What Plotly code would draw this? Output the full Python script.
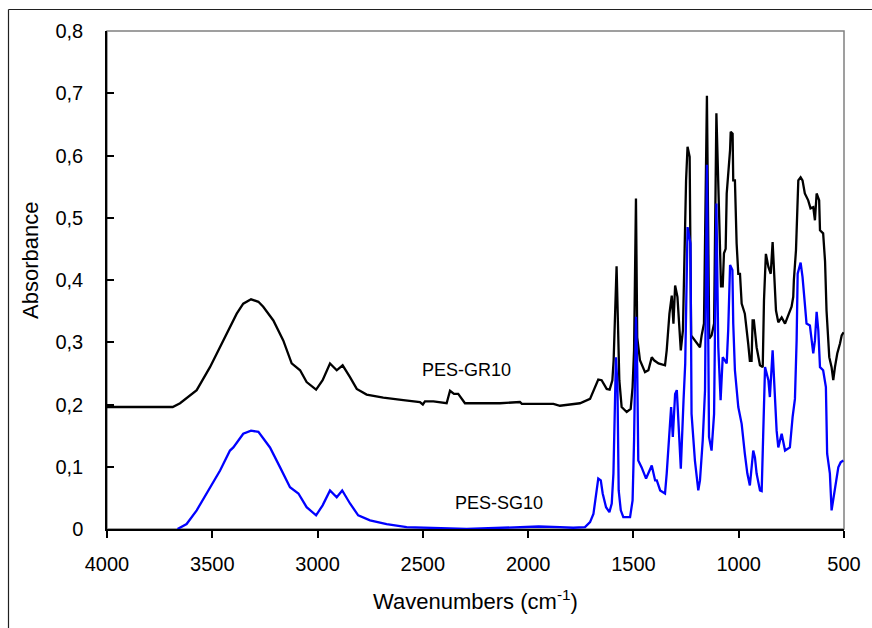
import plotly.graph_objects as go

# ---------------- data ----------------
gr10_wavenumber = [4000, 3688, 3653, 3574, 3511, 3448, 3384, 3353, 3316, 3281, 3258, 3210, 3163, 3123,
                   3083, 3052, 3007, 2976, 2941, 2909, 2881, 2846, 2814, 2767, 2688, 2593, 2514, 2500,
                   2490, 2450, 2387, 2371, 2352, 2332, 2300, 2134, 2039, 2030, 1880, 1849, 1754, 1706,
                   1690, 1667, 1651, 1627, 1613, 1600, 1594, 1580, 1567, 1556, 1532, 1513, 1504, 1497,
                   1488, 1482, 1469, 1445, 1429, 1413, 1402, 1389, 1381, 1350, 1342, 1329, 1318, 1310,
                   1302, 1291, 1282, 1275, 1265, 1250, 1243, 1233, 1226, 1215, 1199, 1184, 1176, 1165,
                   1151, 1140, 1129, 1117, 1106, 1097, 1089, 1084, 1076, 1070, 1062, 1057, 1041, 1038,
                   1029, 1026, 1018, 1010, 1002, 994, 986, 971, 955, 947, 939, 934, 928, 923, 915, 899,
                   886, 880, 871, 859, 848, 839, 833, 823, 812, 796, 780, 765, 749, 741, 738, 728, 722,
                   717, 706, 697, 686, 670, 659, 646, 638, 630, 618, 614, 599, 590, 583, 570, 559, 551,
                   543, 532, 519, 511, 502]
gr10_absorbance = [0.196, 0.196, 0.202, 0.223, 0.260, 0.303, 0.346, 0.362, 0.369, 0.365, 0.357, 0.335,
                   0.303, 0.266, 0.255, 0.236, 0.224, 0.239, 0.266, 0.255, 0.263, 0.244, 0.225, 0.216,
                   0.211, 0.207, 0.204, 0.200, 0.205, 0.205, 0.202, 0.222, 0.217, 0.217, 0.202, 0.202,
                   0.204, 0.201, 0.201, 0.198, 0.202, 0.209, 0.223, 0.240, 0.239, 0.225, 0.224, 0.239,
                   0.271, 0.422, 0.239, 0.196, 0.188, 0.193, 0.228, 0.287, 0.531, 0.308, 0.271, 0.252,
                   0.255, 0.276, 0.271, 0.267, 0.266, 0.263, 0.287, 0.346, 0.375, 0.330, 0.391, 0.373,
                   0.324, 0.287, 0.319, 0.560, 0.614, 0.598, 0.311, 0.306, 0.298, 0.292, 0.311, 0.330,
                   0.696, 0.306, 0.311, 0.330, 0.668, 0.539, 0.443, 0.390, 0.390, 0.443, 0.450, 0.539,
                   0.609, 0.638, 0.635, 0.560, 0.560, 0.459, 0.410, 0.410, 0.362, 0.346, 0.298, 0.270,
                   0.270, 0.335, 0.335, 0.319, 0.292, 0.263, 0.260, 0.367, 0.442, 0.421, 0.410, 0.461,
                   0.416, 0.351, 0.332, 0.340, 0.330, 0.343, 0.357, 0.373, 0.400, 0.448, 0.512, 0.560,
                   0.565, 0.560, 0.539, 0.528, 0.515, 0.517, 0.496, 0.539, 0.528, 0.480, 0.475, 0.430,
                   0.351, 0.276, 0.260, 0.239, 0.260, 0.282, 0.298, 0.311, 0.316]

sg10_wavenumber = [3665, 3622, 3574, 3527, 3463, 3416, 3400, 3353, 3316, 3281, 3274, 3226, 3178, 3131,
                   3091, 3052, 3007, 2976, 2941, 2909, 2883, 2846, 2807, 2751, 2672, 2577, 2292, 2100,
                   1950, 1849, 1786, 1730, 1706, 1690, 1678, 1667, 1655, 1646, 1630, 1614, 1603, 1595,
                   1583, 1576, 1570, 1560, 1548, 1516, 1504, 1497, 1488, 1482, 1477, 1461, 1440, 1425,
                   1413, 1397, 1389, 1373, 1350, 1342, 1329, 1321, 1313, 1302, 1294, 1286, 1275, 1262,
                   1254, 1243, 1229, 1224, 1208, 1192, 1184, 1171, 1160, 1151, 1141, 1129, 1117, 1106,
                   1097, 1086, 1076, 1057, 1050, 1041, 1030, 1026, 1018, 1002, 986, 971, 959, 947, 931,
                   923, 915, 899, 891, 884, 875, 859, 852, 839, 828, 820, 812, 796, 780, 757, 744, 733,
                   725, 720, 706, 697, 686, 678, 662, 646, 638, 630, 622, 614, 599, 586, 580, 567, 559,
                   551, 538, 527, 516, 503]
sg10_absorbance = [0.000, 0.008, 0.030, 0.057, 0.094, 0.126, 0.131, 0.153, 0.158, 0.156, 0.153, 0.131,
                   0.099, 0.067, 0.057, 0.035, 0.022, 0.038, 0.062, 0.051, 0.062, 0.041, 0.022, 0.014,
                   0.008, 0.003, 0.000, 0.002, 0.004, 0.003, 0.002, 0.003, 0.011, 0.024, 0.057, 0.081,
                   0.078, 0.057, 0.035, 0.027, 0.041, 0.089, 0.276, 0.233, 0.062, 0.030, 0.019, 0.019,
                   0.046, 0.142, 0.341, 0.260, 0.110, 0.099, 0.081, 0.094, 0.102, 0.078, 0.078, 0.062,
                   0.057, 0.089, 0.158, 0.196, 0.148, 0.217, 0.223, 0.174, 0.097, 0.207, 0.266, 0.485,
                   0.459, 0.185, 0.110, 0.062, 0.078, 0.142, 0.223, 0.585, 0.148, 0.126, 0.185, 0.523,
                   0.292, 0.207, 0.276, 0.266, 0.319, 0.424, 0.416, 0.330, 0.255, 0.196, 0.169, 0.121,
                   0.089, 0.070, 0.126, 0.115, 0.089, 0.062, 0.061, 0.148, 0.260, 0.239, 0.212, 0.287,
                   0.196, 0.158, 0.131, 0.153, 0.126, 0.131, 0.180, 0.209, 0.303, 0.410, 0.428, 0.405,
                   0.362, 0.330, 0.327, 0.282, 0.303, 0.349, 0.319, 0.260, 0.255, 0.228, 0.121, 0.089,
                   0.030, 0.046, 0.073, 0.099, 0.107, 0.110]

x_tick_values = [4000, 3500, 3000, 2500, 2000, 1500, 1000, 500]
x_tick_labels = ["4000", "3500", "3000", "2500", "2000", "1500", "1000", "500"]
y_tick_values = [0, 0.1, 0.2, 0.3, 0.4, 0.5, 0.6, 0.7, 0.8]
y_tick_labels = ["0", "0,1", "0,2", "0,3", "0,4", "0,5", "0,6", "0,7", "0,8"]

series_names = ["PES-GR10", "PES-SG10"]
x_title = "Wavenumbers (cm<sup>-1</sup>)"
y_title = "Absorbance"

FONT = "Liberation Sans, Arial, sans-serif"

fig = go.Figure()
fig.add_trace(go.Scatter(x=gr10_wavenumber, y=gr10_absorbance, mode="lines", name=series_names[0],
                         line=dict(color="#000000", width=2.3), showlegend=False))
fig.add_trace(go.Scatter(x=sg10_wavenumber, y=sg10_absorbance, mode="lines", name=series_names[1],
                         line=dict(color="#0000FF", width=2.3), showlegend=False))

# labels on the curves
fig.add_annotation(x=2295, y=0.256, text=series_names[0], showarrow=False,
                   font=dict(family=FONT, size=18, color="#000"))
fig.add_annotation(x=2138, y=0.041, text=series_names[1], showarrow=False,
                   font=dict(family=FONT, size=18, color="#000"))

L, R, T, B = 107, 28, 31, 99
W, H = 872, 628
pw, ph = W - L - R, H - T - B

# y-axis title (placed like the reference, slightly above the plot centre)
fig.add_annotation(xref="paper", yref="paper", x=(30 - L) / pw, y=(T + ph - 261) / ph,
                   xanchor="center", yanchor="middle",
                   text=y_title, textangle=-90, showarrow=False,
                   font=dict(family=FONT, size=22, color="#000"))

# grey top/right border of the plot area
fig.add_shape(type="rect", xref="paper", yref="paper", x0=0, y0=0, x1=1, y1=1,
              line=dict(color="#808080", width=1.5), layer="below")
# outer frame (top and left visible)
fx = (8.5 - L) / pw
fy = 1 + (T - 9.5) / ph
fig.add_shape(type="line", xref="paper", yref="paper", x0=fx, x1=1.2, y0=fy, y1=fy,
              line=dict(color="#202020", width=1.2))
fig.add_shape(type="line", xref="paper", yref="paper", x0=fx, x1=fx, y0=fy, y1=-0.3,
              line=dict(color="#202020", width=1.2))

fig.update_layout(
    width=W, height=H,
    margin=dict(l=L, r=R, t=T, b=B, pad=0),
    paper_bgcolor="white", plot_bgcolor="white",
    font=dict(family=FONT, size=20, color="#000"),
    xaxis=dict(range=[4000, 500], tickvals=x_tick_values, ticktext=x_tick_labels,
               ticks="outside", ticklen=7, tickwidth=1.5, tickcolor="#000",
               showline=True, linecolor="#000", linewidth=1.5, showgrid=False, zeroline=False,
               tickfont=dict(family=FONT, size=20), ticklabelstandoff=9,
               title=dict(text=x_title, font=dict(family=FONT, size=22), standoff=20)),
    yaxis=dict(range=[0, 0.8], tickvals=y_tick_values, ticktext=y_tick_labels,
               ticks="inside", ticklen=7, tickwidth=1.5, tickcolor="#000",
               showline=True, linecolor="#000", linewidth=1.5, showgrid=False, zeroline=False,
               tickfont=dict(family=FONT, size=20), ticklabelstandoff=18),
)

fig.write_html("out.html")
